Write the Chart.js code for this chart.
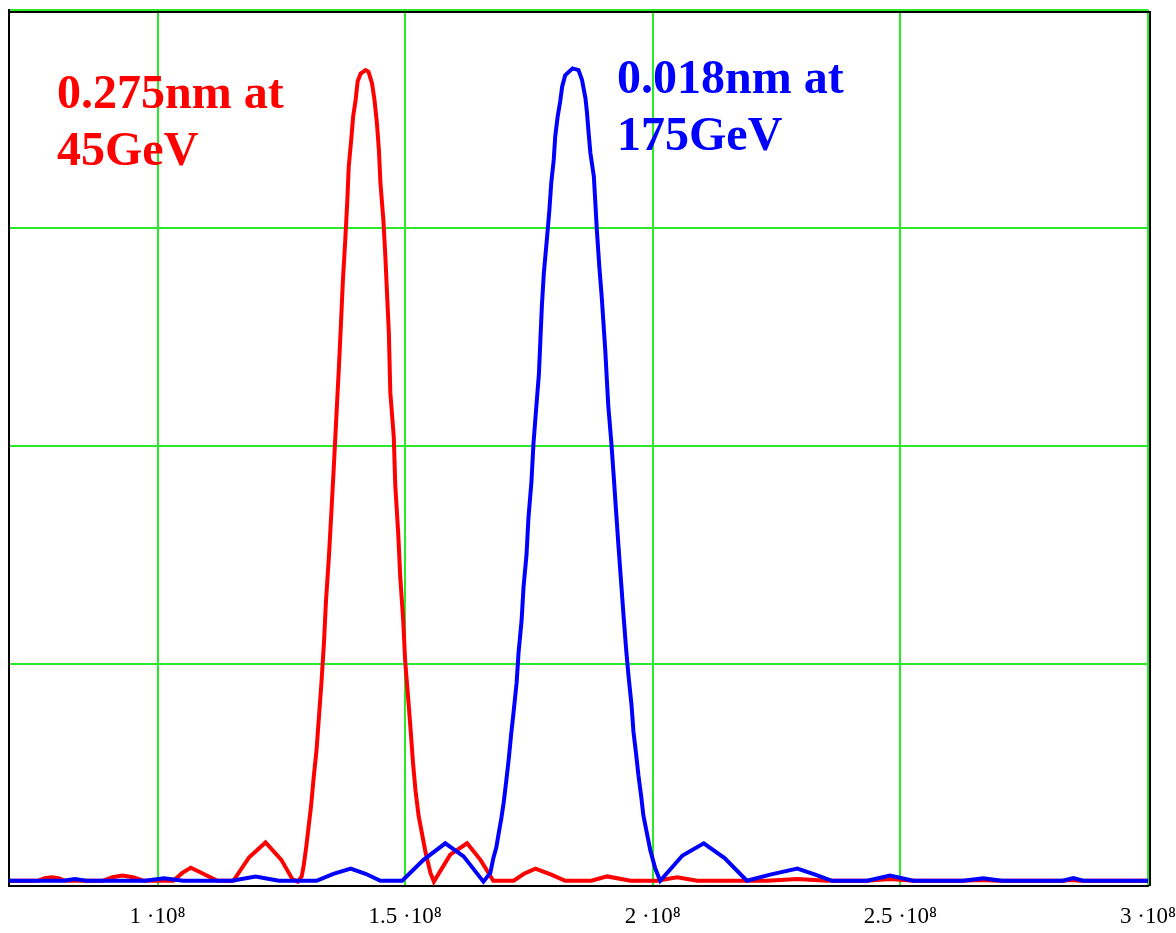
<!DOCTYPE html>
<html>
<head>
<meta charset="utf-8">
<title>Diffraction peaks</title>
<script src="https://cdn.jsdelivr.net/npm/chart.js@4/dist/chart.umd.min.js"></script>
<style>
  html, body { margin: 0; padding: 0; background: #fff; }
  #wrap { position: relative; width: 1176px; height: 933px; }
  .note {
    position: absolute;
    font-family: "Liberation Serif", "Times New Roman", serif;
    font-weight: bold;
    font-size: 48px;
    line-height: 57px;
    white-space: nowrap;
  }
</style>
</head>
<body>
<div id="wrap">
  <canvas id="peakChart" width="1176" height="933"></canvas>
  <div class="note" style="color:#ff0000; left:57px; top:63px;">0.275nm at<br>45GeV</div>
  <div class="note" style="color:#0000ff; left:617px; top:48px;">0.018nm at<br>175GeV</div>
</div>
<script>
// x positions are in units of 1e8
const xUnit = 1e8;

const tickValues = [1, 1.5, 2, 2.5, 3];
const tickLabels = ["1 ·10⁸", "1.5 ·10⁸", "2 ·10⁸", "2.5 ·10⁸", "3 ·10⁸"];

// 45 GeV curve (red)
const redX = [0.70, 0.758, 0.772, 0.786, 0.800, 0.814, 0.889, 0.909, 0.929, 0.950, 0.972,
  1.032, 1.050, 1.067, 1.085, 1.121, 1.153, 1.185, 1.218, 1.250, 1.272, 1.283, 1.291,
  1.295, 1.300, 1.305, 1.310, 1.315, 1.321, 1.326, 1.331, 1.336, 1.340, 1.346, 1.351,
  1.356, 1.361, 1.366, 1.370, 1.374, 1.379, 1.383, 1.386, 1.391, 1.395, 1.400, 1.404,
  1.410, 1.420, 1.426, 1.433, 1.438, 1.443, 1.447, 1.450, 1.456, 1.460, 1.464, 1.467,
  1.470, 1.477, 1.480, 1.486, 1.490, 1.496, 1.500, 1.506, 1.511, 1.516, 1.521, 1.527,
  1.534, 1.541, 1.551, 1.558, 1.591, 1.625, 1.652, 1.678, 1.719, 1.740, 1.763, 1.795,
  1.823, 1.876, 1.908, 1.955, 2.009, 2.049, 2.090, 2.231, 2.292, 2.352, 2.433, 2.479,
  2.526, 2.627, 2.661, 2.697, 2.828, 2.843, 2.863, 3.0];
const redY = [0.001, 0.001, 0.004, 0.005, 0.004, 0.001, 0.001, 0.005, 0.007, 0.005, 0.001,
  0.001, 0.010, 0.016, 0.011, 0.001, 0.001, 0.028, 0.045, 0.025, 0.003, 0.000, 0.006,
  0.018, 0.039, 0.063, 0.087, 0.118, 0.151, 0.190, 0.229, 0.274, 0.321, 0.373, 0.424,
  0.477, 0.533, 0.588, 0.636, 0.687, 0.736, 0.779, 0.820, 0.851, 0.878, 0.897, 0.918,
  0.927, 0.931, 0.929, 0.916, 0.897, 0.870, 0.839, 0.802, 0.759, 0.717, 0.667, 0.630,
  0.561, 0.510, 0.455, 0.399, 0.350, 0.300, 0.253, 0.211, 0.174, 0.135, 0.104, 0.076,
  0.055, 0.034, 0.010, 0.000, 0.031, 0.044, 0.025, 0.001, 0.001, 0.009, 0.015, 0.008,
  0.001, 0.001, 0.006, 0.001, 0.001, 0.005, 0.001, 0.001, 0.003, 0.001, 0.001, 0.003,
  0.001, 0.001, 0.002, 0.001, 0.001, 0.002, 0.001, 0.001];

// 175 GeV curve (blue)
const blueX = [0.70, 0.810, 0.833, 0.856, 0.974, 1.013, 1.052, 1.150, 1.198, 1.245,
  1.321, 1.355, 1.390, 1.420, 1.450, 1.494, 1.537, 1.581, 1.618, 1.658,
  1.672, 1.678, 1.684, 1.689, 1.694, 1.699, 1.704, 1.709, 1.714, 1.719, 1.725, 1.729,
  1.735, 1.739, 1.745, 1.749, 1.755, 1.759, 1.764, 1.770, 1.773, 1.776, 1.780, 1.786,
  1.791, 1.795, 1.800, 1.803, 1.808, 1.813, 1.817, 1.823, 1.838, 1.850, 1.857, 1.864,
  1.867, 1.870, 1.874, 1.881, 1.884, 1.887, 1.892, 1.897, 1.904, 1.910, 1.916, 1.921,
  1.926, 1.931, 1.936, 1.941, 1.946, 1.951, 1.957, 1.961, 1.967, 1.971, 1.977, 1.981,
  1.988, 1.995, 2.005, 2.015, 2.060, 2.103, 2.145, 2.190, 2.237, 2.292, 2.328, 2.362,
  2.433, 2.479, 2.526, 2.627, 2.667, 2.705, 2.828, 2.849, 2.869, 3.0];
const blueY = [0.001, 0.001, 0.003, 0.001, 0.001, 0.004, 0.001, 0.001, 0.006, 0.001,
  0.001, 0.009, 0.015, 0.009, 0.001, 0.001, 0.025, 0.044, 0.029, 0.000,
  0.010, 0.027, 0.039, 0.056, 0.072, 0.091, 0.115, 0.140, 0.169, 0.195, 0.228, 0.263,
  0.299, 0.338, 0.375, 0.418, 0.459, 0.502, 0.539, 0.582, 0.621, 0.660, 0.698, 0.736,
  0.769, 0.802, 0.828, 0.855, 0.878, 0.895, 0.912, 0.925, 0.933, 0.931, 0.920, 0.899,
  0.883, 0.862, 0.836, 0.809, 0.779, 0.748, 0.706, 0.670, 0.610, 0.547, 0.506, 0.466,
  0.424, 0.383, 0.344, 0.305, 0.268, 0.236, 0.203, 0.172, 0.143, 0.122, 0.096, 0.076,
  0.056, 0.036, 0.015, 0.001, 0.030, 0.044, 0.027, 0.001, 0.008, 0.015, 0.008, 0.001,
  0.001, 0.007, 0.001, 0.001, 0.004, 0.001, 0.001, 0.004, 0.001, 0.001];

const gridGreen = "#2be82b";

function toPoints(xs, ys) {
  return xs.map((x, i) => ({ x: x * xUnit, y: ys[i] }));
}

// black frame on the top and right, offset from the last grid lines
const framePlugin = {
  id: "frame",
  beforeDatasetsDraw(chart) {
    const { ctx, chartArea: a } = chart;
    ctx.save();
    ctx.strokeStyle = "#000";
    ctx.lineWidth = 2;
    ctx.beginPath();
    ctx.moveTo(a.left, a.top + 2);
    ctx.lineTo(a.right + 2, a.top + 2);
    ctx.lineTo(a.right + 2, a.bottom);
    ctx.stroke();
    ctx.restore();
  }
};

const ctx = document.getElementById("peakChart").getContext("2d");

new Chart(ctx, {
  type: "line",
  data: {
    datasets: [
      {
        label: "0.018nm at 175GeV",
        data: toPoints(blueX, blueY),
        borderColor: "#0000ff",
        borderWidth: 4,
        pointRadius: 0,
        tension: 0,
        order: 0
      },
      {
        label: "0.275nm at 45GeV",
        data: toPoints(redX, redY),
        borderColor: "#ff0000",
        borderWidth: 4,
        pointRadius: 0,
        tension: 0,
        order: 1
      }
    ]
  },
  options: {
    responsive: false,
    animation: false,
    devicePixelRatio: 1,
    layout: {
      padding: { left: 9, right: 28, top: 10, bottom: 2 }
    },
    plugins: {
      legend: { display: false },
      tooltip: { enabled: false }
    },
    scales: {
      x: {
        type: "linear",
        min: 0.7 * xUnit,
        max: 3 * xUnit,
        afterBuildTicks: (scale) => {
          scale.ticks = tickValues.map(v => ({ value: v * xUnit }));
        },
        afterFit: (scale) => {
          scale.paddingLeft = 0;
          scale.paddingRight = 0;
          scale.height = 45;
        },
        ticks: {
          autoSkip: false,
          maxRotation: 0,
          padding: 17,
          color: "#000",
          font: { family: "'Liberation Serif', 'Times New Roman', serif", size: 23 },
          callback: (value, index) => tickLabels[index]
        },
        grid: { color: gridGreen, lineWidth: 2, drawTicks: false },
        border: { display: true, color: "#000", width: 2 }
      },
      y: {
        min: -0.005,
        max: 1,
        afterBuildTicks: (scale) => {
          scale.ticks = [0.25, 0.5, 0.75, 1].map(v => ({ value: v }));
        },
        ticks: { display: false },
        grid: { color: gridGreen, lineWidth: 2, drawTicks: false },
        border: { display: true, color: "#000", width: 2 }
      }
    }
  },
  plugins: [framePlugin]
});
</script>
</body>
</html>
